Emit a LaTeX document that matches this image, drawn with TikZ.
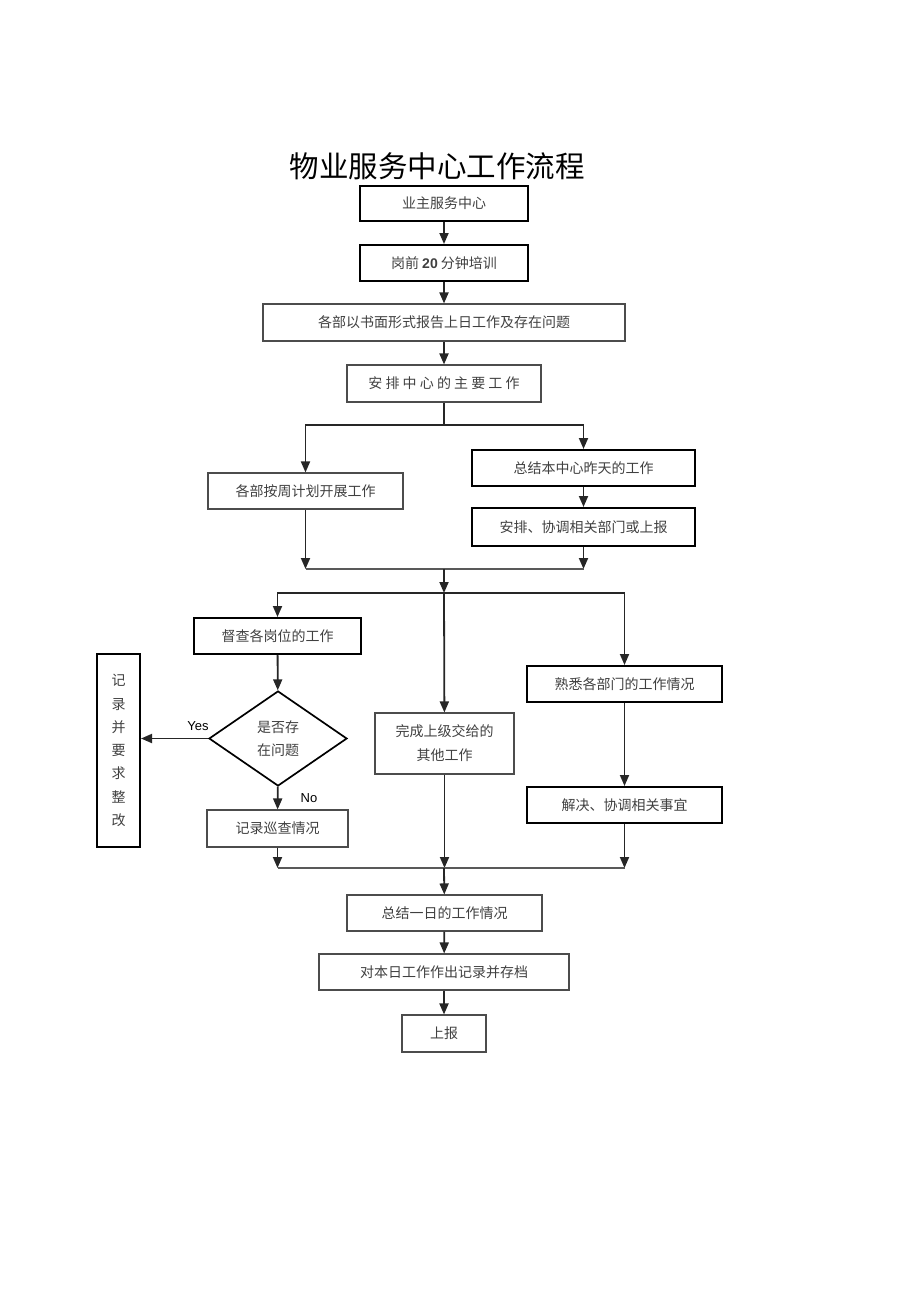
\documentclass[tikz,border=0pt]{standalone}
\usepackage{fontspec}
\setmainfont{Liberation Sans}
\newfontfamily\cjk{Noto Sans CJK SC}
\usetikzlibrary{arrows.meta,shapes.geometric}
\begin{document}
\begin{tikzpicture}[x=1pt,y=-1pt,
  box/.style={draw=black!70, line width=1.1pt, inner sep=0pt, text=black!75,
    font=\cjk\fontsize{14}{17}\selectfont},
  tbox/.style={box, draw=black, line width=2pt},
  arr/.style={draw=black!85, -{Triangle[length=11pt,width=9pt]}, line width=1.8pt},
  ln/.style={draw=black!65, line width=1.1pt},
  lbl/.style={font=\fontsize{13}{15}\selectfont, text=black}]
\useasboundingbox (0,0) rectangle (920,1303);
\node (T) at (437,166) {\cjk\fontsize{29.5}{32}\selectfont 物业服务中心工作流程};
\node[tbox, minimum width=168, minimum height=35] (B1) at (444,203.5) {业主服务中心};
\node[tbox, minimum width=168, minimum height=36] (B2) at (444,263) {岗前 {\fontspec{Liberation Sans}\bfseries 20} 分钟培训};
\node[box, minimum width=362, minimum height=37] (B3) at (444,322.5) {各部以书面形式报告上日工作及存在问题};
\node[box, minimum width=194, minimum height=37] (B4) at (444,383.5) {安 排 中 心 的 主 要 工 作};
\node[box, minimum width=195, minimum height=36] (L1) at (305.5,491) {各部按周计划开展工作};
\node[tbox, minimum width=223, minimum height=36] (R1) at (583.5,468) {总结本中心昨天的工作};
\node[tbox, minimum width=223, minimum height=38] (R2) at (583.5,527) {安排、协调相关部门或上报};
\node[tbox, minimum width=167, minimum height=36] (D) at (277.5,636) {督查各岗位的工作};
\node[box, diamond, draw=black, line width=1.7pt, minimum width=138, minimum height=95, align=center, font=\cjk\fontsize{14}{23}\selectfont] (Q) at (278,738.5) {是否存\\在问题};
\node[tbox, minimum width=43, minimum height=193, align=center, font=\cjk\fontsize{14}{23.3}\selectfont] (V) at (118.5,750.5) {记\\录\\并\\要\\求\\整\\改};
\node[box, minimum width=141, minimum height=37] (X) at (277.5,828.5) {记录巡查情况};
\node[box, minimum width=139, minimum height=61, align=center, font=\cjk\fontsize{14}{24}\selectfont] (M) at (444.5,743.5) {完成上级交给的\\其他工作};
\node[tbox, minimum width=195, minimum height=36] (F) at (624.5,684) {熟悉各部门的工作情况};
\node[tbox, minimum width=195, minimum height=36] (J) at (624.5,805) {解决、协调相关事宜};
\node[box, minimum width=195, minimum height=36] (S) at (444.5,913) {总结一日的工作情况};
\node[box, minimum width=250, minimum height=36] (A) at (444,972) {对本日工作作出记录并存档};
\node[box, minimum width=84, minimum height=37] (U) at (444,1033.5) {上报};
\coordinate (s1) at (444,425);
\coordinate (m1) at (444,569);
\coordinate (s2) at (444,593);
\coordinate (m2) at (444,868);
\draw[arr] (B1) -- (B2);
\draw[arr] (B2) -- (B3);
\draw[arr] (B3) -- (B4);
\draw[ln, draw=black!85, line width=1.8pt] (B4) -- (s1);
\draw[arr] (s1) -| (L1);
\draw[arr] (s1) -| (R1);
\draw[arr] (R1) -- (R2);
\draw[arr] (L1) -- (L1 |- m1);
\draw[arr] (R2) -- (R2 |- m1);
\draw[ln] (L1 |- m1) -- (R2 |- m1);
\draw[arr] (m1) -- (s2);
\draw[arr] (s2) -| (D);
\draw[arr] (s2) -| (F);
\draw[arr] (s2) -- (M);
\draw[arr] (D) -- (Q);
\draw[arr] (Q) -- (X);
\draw[arr] (Q.west) -- (V.east |- Q.west);
\node[lbl] (yes) at (198,726) {Yes};
\node[lbl] (no) at (309,798) {No};
\draw[arr] (F) -- (J);
\draw[arr] (X) -- (X |- m2);
\draw[arr] (M) -- (M |- m2);
\draw[arr] (J) -- (J |- m2);
\draw[ln] (X |- m2) -- (J |- m2);
\draw[arr] (m2) -- (S);
\draw[arr] (S) -- (A);
\draw[arr] (A) -- (U);
\end{tikzpicture}
\end{document}
